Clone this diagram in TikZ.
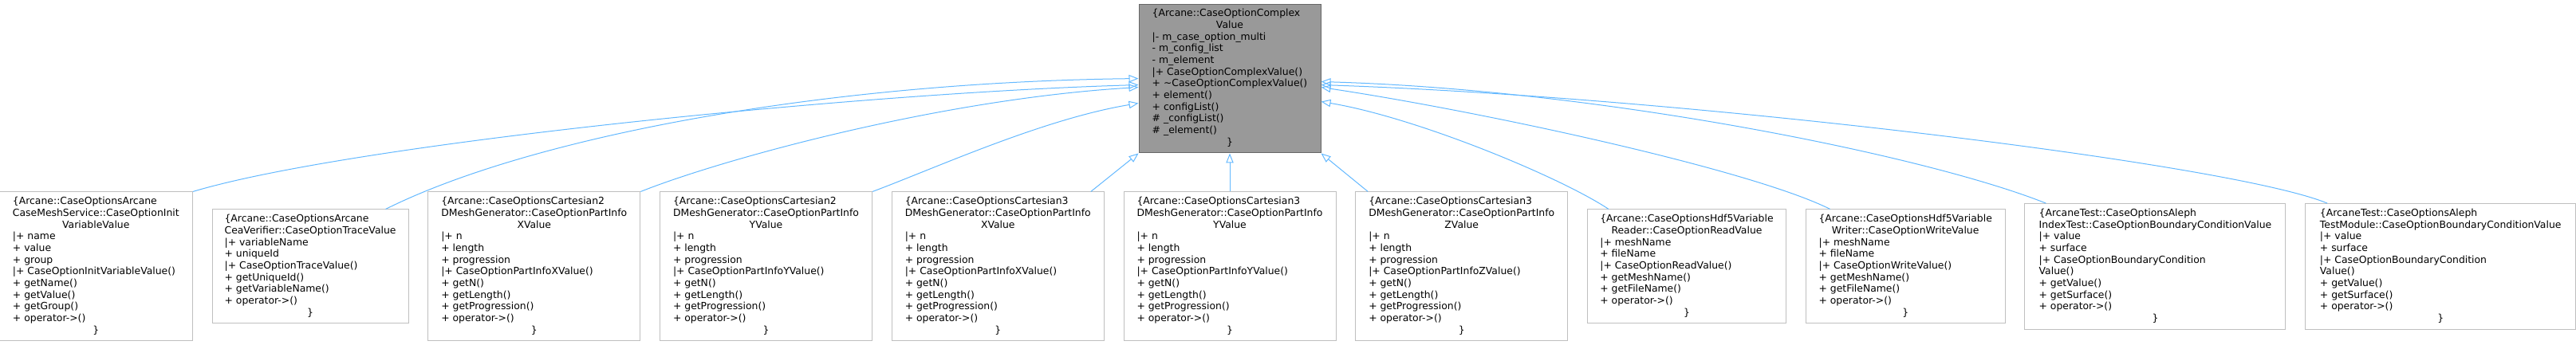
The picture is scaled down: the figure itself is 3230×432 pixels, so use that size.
\documentclass[tikz,border=0pt]{standalone}
\usepackage{fontspec}
\setmainfont{DejaVu Sans}
\usepackage{xcolor}
\usepackage{tikz}
\usetikzlibrary{arrows.meta, positioning, calc}

\definecolor{edgeblue}{HTML}{63B8FF}
\definecolor{boxgray}{HTML}{BFBFBF}
\definecolor{basefill}{HTML}{999999}
\definecolor{basedraw}{HTML}{666666}
\newcommand{\ctr}[1]{\multicolumn{1}{@{}c@{}}{#1}}

\begin{document}
\begin{tikzpicture}[
    x=0.75pt, y=-0.75pt,
    node distance=17.8pt,
    cls/.style={rectangle, draw=boxgray, line width=0.75pt, fill=white, inner xsep=0pt, inner ysep=4.1pt, minimum width=#1*0.75pt, font=\fontsize{9.3}{11}\selectfont},
    base/.style={cls=#1, fill=basefill, draw=basedraw},
    inh/.style={draw=edgeblue, line width=0.75pt, -{Triangle[open, length=9pt, width=7pt]}}
]
\useasboundingbox (0,0) rectangle (3230,432);

% Nodes
\node[base=228] (cov) at (1542,98.5) {\begin{tabular}{@{}l@{}}
\{Arcane::CaseOptionComplex\\
\ctr{Value}\\
|- m\_case\_option\_multi\\
- m\_config\_list\\
- m\_element\\
|+ CaseOptionComplexValue()\\
+ \textasciitilde CaseOptionComplexValue()\\
+ element()\\
+ configList()\\
\# \_configList()\\
\# \_element()\\
\ctr{\}}
\end{tabular}};

\node[cls=266, below=36pt of cov] (c3y) {\begin{tabular}{@{}l@{}}
\{Arcane::CaseOptionsCartesian3\\
DMeshGenerator::CaseOptionPartInfo\\
\ctr{YValue}\\
|+ n\\
+ length\\
+ progression\\
|+ CaseOptionPartInfoYValue()\\
+ getN()\\
+ getLength()\\
+ getProgression()\\
+ operator->()\\
\ctr{\}}
\end{tabular}};

\node[cls=266, left=of c3y] (c3x) {\begin{tabular}{@{}l@{}}
\{Arcane::CaseOptionsCartesian3\\
DMeshGenerator::CaseOptionPartInfo\\
\ctr{XValue}\\
|+ n\\
+ length\\
+ progression\\
|+ CaseOptionPartInfoXValue()\\
+ getN()\\
+ getLength()\\
+ getProgression()\\
+ operator->()\\
\ctr{\}}
\end{tabular}};

\node[cls=266, left=of c3x] (c2y) {\begin{tabular}{@{}l@{}}
\{Arcane::CaseOptionsCartesian2\\
DMeshGenerator::CaseOptionPartInfo\\
\ctr{YValue}\\
|+ n\\
+ length\\
+ progression\\
|+ CaseOptionPartInfoYValue()\\
+ getN()\\
+ getLength()\\
+ getProgression()\\
+ operator->()\\
\ctr{\}}
\end{tabular}};

\node[cls=266, left=of c2y] (c2x) {\begin{tabular}{@{}l@{}}
\{Arcane::CaseOptionsCartesian2\\
DMeshGenerator::CaseOptionPartInfo\\
\ctr{XValue}\\
|+ n\\
+ length\\
+ progression\\
|+ CaseOptionPartInfoXValue()\\
+ getN()\\
+ getLength()\\
+ getProgression()\\
+ operator->()\\
\ctr{\}}
\end{tabular}};

\node[cls=246, left=of c2x] (trace) {\begin{tabular}{@{}l@{}}
\{Arcane::CaseOptionsArcane\\
CeaVerifier::CaseOptionTraceValue\\
|+ variableName\\
+ uniqueId\\
|+ CaseOptionTraceValue()\\
+ getUniqueId()\\
+ getVariableName()\\
+ operator->()\\
\ctr{\}}
\end{tabular}};

\node[cls=242, left=of trace] (initvar) {\begin{tabular}{@{}l@{}}
\{Arcane::CaseOptionsArcane\\
CaseMeshService::CaseOptionInit\\
\ctr{VariableValue}\\
|+ name\\
+ value\\
+ group\\
|+ CaseOptionInitVariableValue()\\
+ getName()\\
+ getValue()\\
+ getGroup()\\
+ operator->()\\
\ctr{\}}
\end{tabular}};

\node[cls=266, right=of c3y] (c3z) {\begin{tabular}{@{}l@{}}
\{Arcane::CaseOptionsCartesian3\\
DMeshGenerator::CaseOptionPartInfo\\
\ctr{ZValue}\\
|+ n\\
+ length\\
+ progression\\
|+ CaseOptionPartInfoZValue()\\
+ getN()\\
+ getLength()\\
+ getProgression()\\
+ operator->()\\
\ctr{\}}
\end{tabular}};

\node[cls=249, right=of c3z] (h5read) {\begin{tabular}{@{}l@{}}
\{Arcane::CaseOptionsHdf5Variable\\
\ctr{Reader::CaseOptionReadValue}\\
|+ meshName\\
+ fileName\\
|+ CaseOptionReadValue()\\
+ getMeshName()\\
+ getFileName()\\
+ operator->()\\
\ctr{\}}
\end{tabular}};

\node[cls=250, right=of h5read] (h5write) {\begin{tabular}{@{}l@{}}
\{Arcane::CaseOptionsHdf5Variable\\
\ctr{Writer::CaseOptionWriteValue}\\
|+ meshName\\
+ fileName\\
|+ CaseOptionWriteValue()\\
+ getMeshName()\\
+ getFileName()\\
+ operator->()\\
\ctr{\}}
\end{tabular}};

\node[cls=327, right=of h5write] (alephidx) {\begin{tabular}{@{}l@{}}
\{ArcaneTest::CaseOptionsAleph\\
IndexTest::CaseOptionBoundaryConditionValue\\
|+ value\\
+ surface\\
|+ CaseOptionBoundaryCondition\\
Value()\\
+ getValue()\\
+ getSurface()\\
+ operator->()\\
\ctr{\}}
\end{tabular}};

\node[cls=339, right=of alephidx] (alephmod) {\begin{tabular}{@{}l@{}}
\{ArcaneTest::CaseOptionsAleph\\
TestModule::CaseOptionBoundaryConditionValue\\
|+ value\\
+ surface\\
|+ CaseOptionBoundaryCondition\\
Value()\\
+ getValue()\\
+ getSurface()\\
+ operator->()\\
\ctr{\}}
\end{tabular}};

% Arrows
\draw[inh] (initvar.north east) .. controls +(200,-60) and +(-350,10) .. ($(cov.north west)+(0,102)$);
\draw[inh] ($(trace.north east)+(-29,0)$) .. controls +(180,-90) and +(-400,5) .. ($(cov.north west)+(0,94)$);
\draw[inh] (c2x.north east) .. controls +(100,-40) and +(-250,15) .. ($(cov.north west)+(0,105)$);
\draw[inh] (c2y.north east) .. controls +(80,-30) and +(-120,20) .. ($(cov.north west)+(0,125)$);
\draw[inh] ($(c3x.north east)+(-17,0)$) -- (cov.south west);
\draw[inh] (c3y.north) -- (cov.south);
\draw[inh] ($(c3z.north west)+(16,0)$) -- (cov.south east);
\draw[inh] ($(h5read.north west)+(27,0)$) .. controls +(-60,-40) and +(120,20) .. ($(cov.north east)+(0,123)$);
\draw[inh] ($(h5write.north west)+(31,0)$) .. controls +(-100,-50) and +(200,30) .. ($(cov.north east)+(0,105)$);
\draw[inh] ($(alephidx.north west)+(27,0)$) .. controls +(-150,-60) and +(350,10) .. ($(cov.north east)+(0,98)$);
\draw[inh] ($(alephmod.north west)+(28,0)$) .. controls +(-120,-50) and +(450,15) .. ($(cov.north east)+(0,102)$);

\end{tikzpicture}
\end{document}
